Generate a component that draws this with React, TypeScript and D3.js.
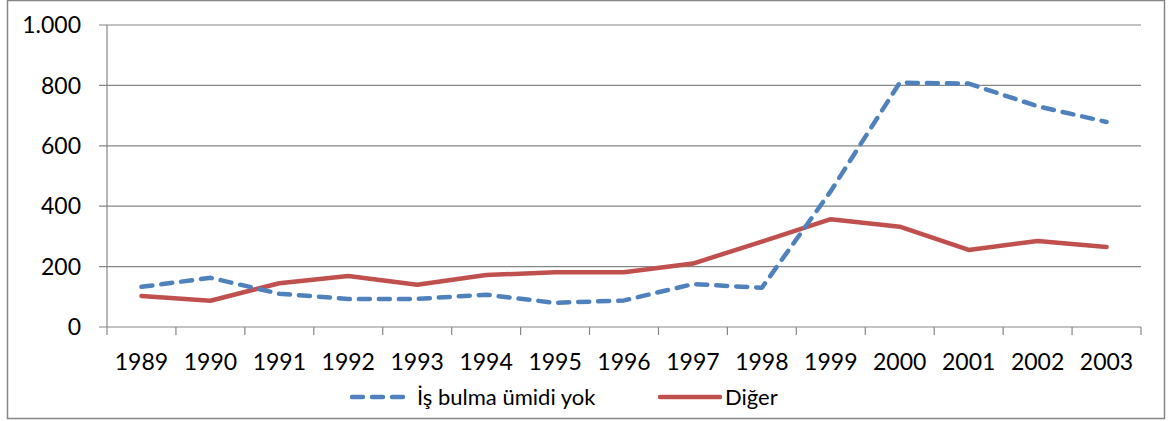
import React from 'react';
import * as d3 from 'd3';

const years = ['1989', '1990', '1991', '1992', '1993', '1994', '1995', '1996', '1997', '1998', '1999', '2000', '2001', '2002', '2003'];
const umidiYok = [133, 163, 110, 93, 93, 107, 80, 88, 142, 130, 450, 809, 806, 731, 679];
const diger = [103, 87, 145, 169, 140, 172, 181, 181, 210, 283, 357, 332, 255, 285, 265];
const yTicks = [0, 200, 400, 600, 800, 1000];

const W = 1171;
const H = 421;
const left = 107;
const right = 1141;
const top = 25;
const bottom = 327;
const font = 'Lato, "Open Sans", sans-serif';

export default function App() {
  const x = d3.scaleBand<string>().domain(years).range([left, right]);
  const y = d3.scaleLinear().domain([0, 1000]).range([bottom, top]);
  const fmt = (v: number) => (v >= 1000 ? d3.format(',')(v).replace(',', '.') : String(v));

  const line = d3
    .line<number>()
    .x((_, i) => (x(years[i]) as number) + x.bandwidth() / 2)
    .y((d) => y(d));

  const boundaries = years.map((yr) => x(yr) as number).concat(right);

  return (
    <svg width={W} height={H} style={{ position: 'absolute', left: 0, top: 0 }}>
      <rect x={7.5} y={0.5} width={1157} height={418} fill="#fff" stroke="#868686" strokeWidth={1.5} />
      {yTicks.map((t) => (
        <g key={t}>
          <line x1={left - 8} x2={right} y1={y(t)} y2={y(t)} stroke="#868686" strokeWidth={1.2} />
          <text x={81} y={y(t)} dy="0.36em" textAnchor="end" fontFamily={font} fontSize={23} fill="#000">
            {fmt(t)}
          </text>
        </g>
      ))}
      <line x1={left} x2={left} y1={top} y2={bottom} stroke="#868686" strokeWidth={1.2} />
      {boundaries.map((b, i) => (
        <line key={i} x1={b} x2={b} y1={bottom} y2={bottom + 8} stroke="#868686" strokeWidth={1.2} />
      ))}
      {years.map((yr) => (
        <text key={yr} x={(x(yr) as number) + x.bandwidth() / 2} y={370} textAnchor="middle" fontFamily={font} fontSize={23} fill="#000">
          {yr}
        </text>
      ))}
      <path d={line(diger) || ''} fill="none" stroke="#c0504d" strokeWidth={4.5} strokeLinejoin="round" strokeLinecap="round" />
      <path d={line(umidiYok) || ''} fill="none" stroke="#4f81bd" strokeWidth={4.5} strokeDasharray="11 9" strokeLinejoin="round" strokeLinecap="round" />
      <line x1={352} x2={404} y1={397} y2={397} stroke="#4f81bd" strokeWidth={4.5} strokeDasharray="11 9" strokeLinecap="round" />
      <text x={417} y={397} dy="0.36em" fontFamily={font} fontSize={22} fill="#000">İş bulma ümidi yok</text>
      <line x1={660} x2={720} y1={397} y2={397} stroke="#c0504d" strokeWidth={4.5} strokeLinecap="round" />
      <text x={725} y={397} dy="0.36em" fontFamily={font} fontSize={22} fill="#000">Diğer</text>
    </svg>
  );
}
